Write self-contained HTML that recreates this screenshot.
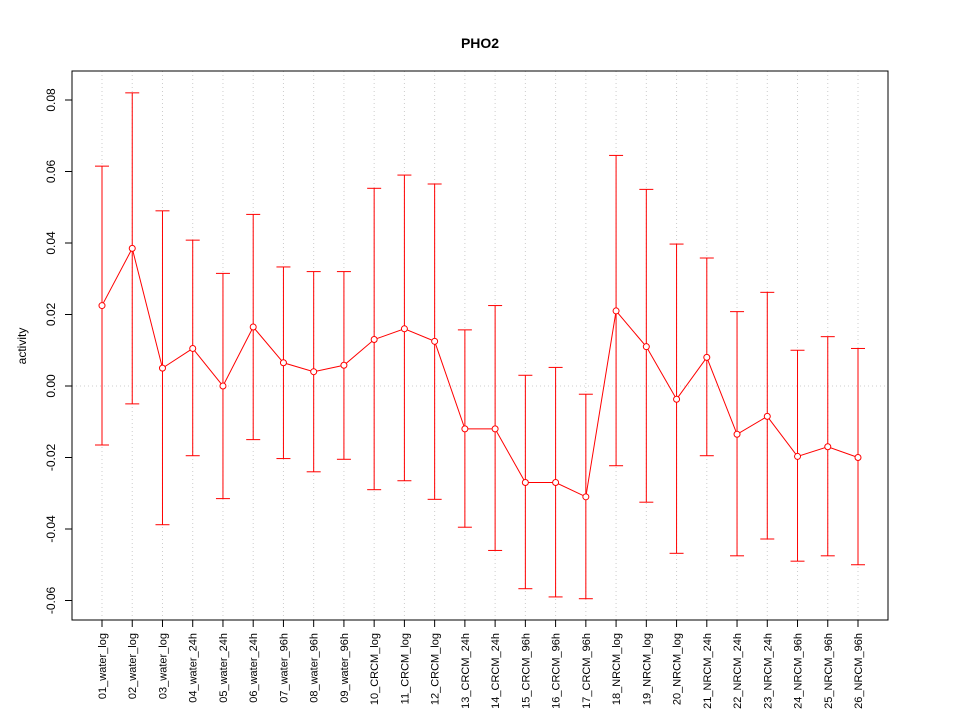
<!DOCTYPE html>
<html><head><meta charset="utf-8"><style>
body{margin:0;background:#fff;}
svg{display:block;font-family:"Liberation Sans",sans-serif;}
</style></head><body>
<svg id="chart" width="960" height="720" xmlns="http://www.w3.org/2000/svg">
<text x="480" y="48" text-anchor="middle" font-size="14" font-weight="bold">PHO2</text>
<text transform="translate(26,346) rotate(-90)" text-anchor="middle" font-size="12">activity</text>
<g id="grid"></g><g id="axes"></g><g id="marks"></g>
<rect x="72" y="71" width="816" height="549" fill="none" stroke="#000"/>
</svg>
<script>
const categories=["01_water_log","02_water_log","03_water_log","04_water_24h","05_water_24h","06_water_24h","07_water_96h","08_water_96h","09_water_96h","10_CRCM_log","11_CRCM_log","12_CRCM_log","13_CRCM_24h","14_CRCM_24h","15_CRCM_96h","16_CRCM_96h","17_CRCM_96h","18_NRCM_log","19_NRCM_log","20_NRCM_log","21_NRCM_24h","22_NRCM_24h","23_NRCM_24h","24_NRCM_96h","25_NRCM_96h","26_NRCM_96h"];
const means=[0.0225,0.0385,0.005,0.0105,0.0,0.0165,0.0065,0.004,0.0058,0.013,0.016,0.0125,-0.012,-0.012,-0.027,-0.027,-0.031,0.021,0.011,-0.0037,0.008,-0.0135,-0.0085,-0.0197,-0.017,-0.020];
const uppers=[0.0615,0.082,0.049,0.0408,0.0315,0.048,0.0333,0.032,0.032,0.0553,0.059,0.0565,0.0157,0.0225,0.003,0.0052,-0.0023,0.0645,0.055,0.0397,0.0358,0.0208,0.0262,0.01,0.0138,0.0105];
const lowers=[-0.0165,-0.005,-0.0388,-0.0195,-0.0315,-0.015,-0.0203,-0.024,-0.0205,-0.029,-0.0265,-0.0317,-0.0395,-0.046,-0.0567,-0.059,-0.0595,-0.0223,-0.0325,-0.0468,-0.0195,-0.0475,-0.0428,-0.049,-0.0475,-0.050];
const yTicks=[-0.06,-0.04,-0.02,0.00,0.02,0.04,0.06,0.08];
const yTickLabels=["-0.06","-0.04","-0.02","0.00","0.02","0.04","0.06","0.08"];
const NS="http://www.w3.org/2000/svg";
const x=i=>102+i*(858-102)/(categories.length-1);
const y=v=>386-v*3575;
function mk(p,t,a){const e=document.createElementNS(NS,t);for(const k in a)e.setAttribute(k,a[k]);p.appendChild(e);return e;}
const grid=document.getElementById('grid'),axes=document.getElementById('axes'),marks=document.getElementById('marks');
const hl=mk(grid,'line',{x1:72,x2:888,y1:y(0),y2:y(0),stroke:'#ccc','stroke-dasharray':'1,3'});


mk(axes,'line',{x1:72,x2:72,y1:y(yTicks[0]),y2:y(yTicks[yTicks.length-1]),stroke:'#000'});
yTicks.forEach((t,i)=>{
  mk(axes,'line',{x1:65,x2:72,y1:y(t),y2:y(t),stroke:'#000'});
  const tx=mk(axes,'text',{transform:`translate(55,${y(t)}) rotate(-90)`,'text-anchor':'middle','font-size':12});
  tx.textContent=yTickLabels[i];
  
  
});
mk(axes,'line',{x1:x(0),x2:x(categories.length-1),y1:620,y2:620,stroke:'#000'});
let pts=[];
categories.forEach((c,i)=>{
  const X=x(i);
  const g=mk(grid,'line',{x1:X,x2:X,y1:71,y2:620,stroke:'#ccc','stroke-dasharray':'1,3'});
  
  
  mk(axes,'line',{x1:X,x2:X,y1:620,y2:627,stroke:'#000'});
  const tx=mk(axes,'text',{transform:`translate(${X+4},633) rotate(-90)`,'text-anchor':'end','font-size':11});
  tx.textContent=c;
  
  
  const eb=mk(marks,'g',{stroke:'red',fill:'none'});
  
  
  mk(eb,'line',{x1:X,x2:X,y1:y(uppers[i]),y2:y(lowers[i])});
  mk(eb,'line',{x1:X-7,x2:X+7,y1:y(uppers[i]),y2:y(uppers[i])});
  mk(eb,'line',{x1:X-7,x2:X+7,y1:y(lowers[i]),y2:y(lowers[i])});
  pts.push(X+','+y(means[i]));
});
const pl=mk(marks,'polyline',{points:pts.join(' '),fill:'none',stroke:'red'});


means.forEach((m,i)=>{
  const c=mk(marks,'circle',{cx:x(i),cy:y(m),r:3,fill:'#fff',stroke:'red'});
  
  
});
</script>
</body></html>
